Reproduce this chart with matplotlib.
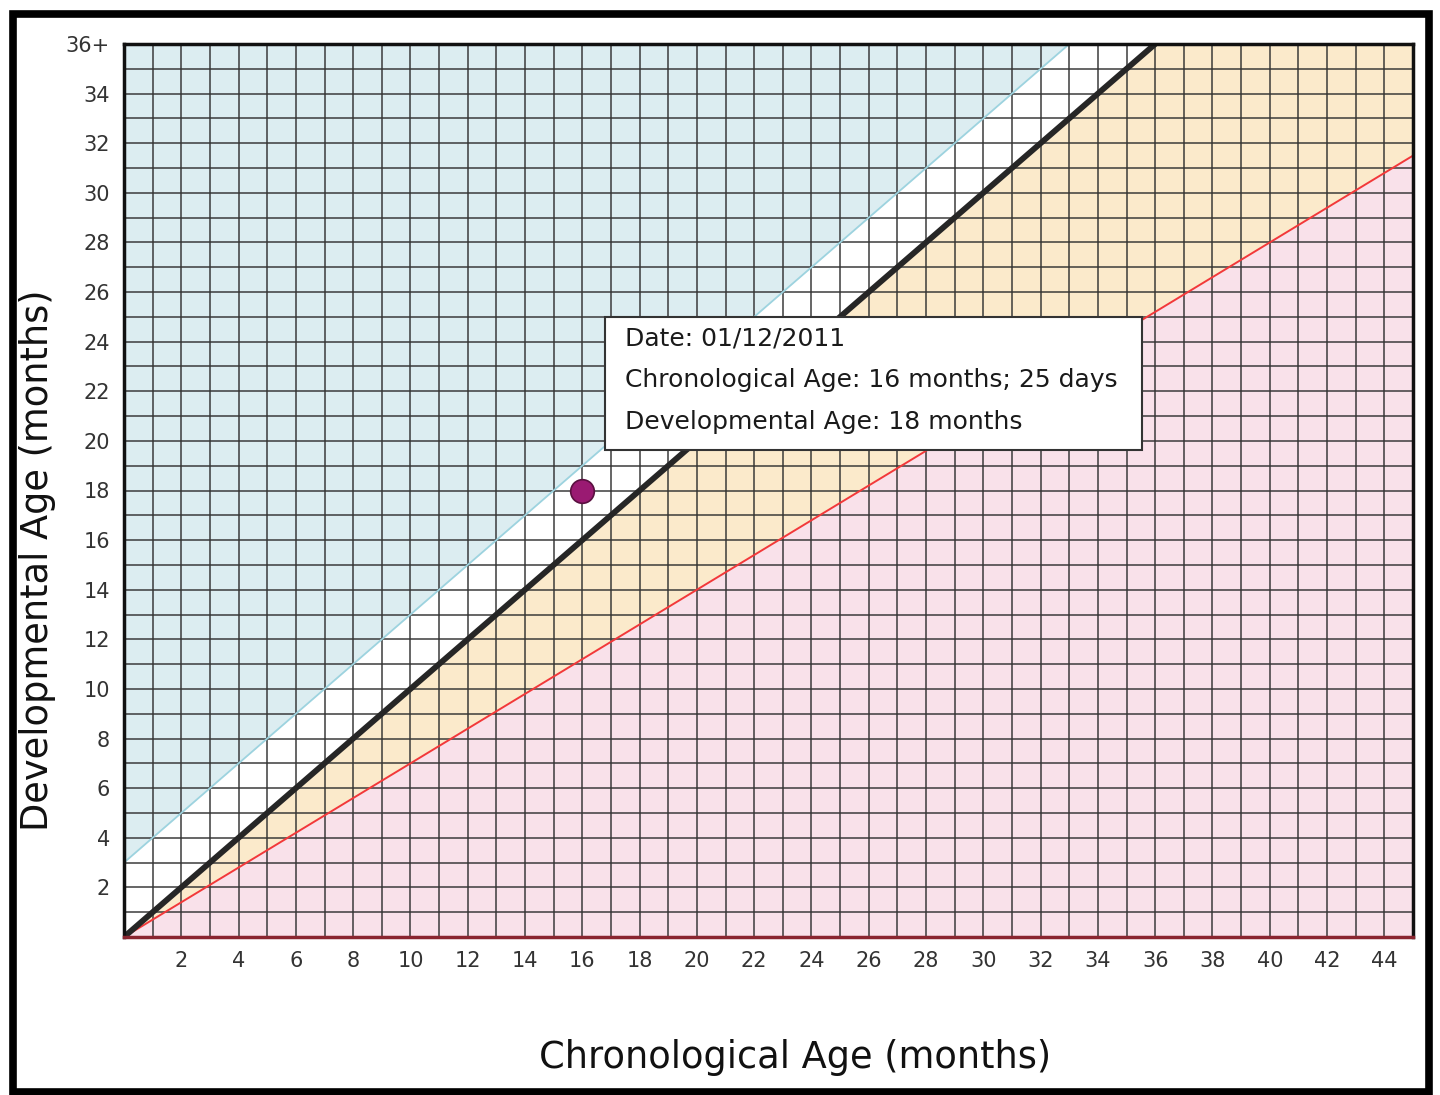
import matplotlib.pyplot as plt
import numpy as np
from matplotlib.patches import Rectangle

# axis extents (months)
x_max = 45
y_max = 36
x_ticks = list(range(2, 45, 2))
y_ticks = list(range(2, 37, 2))
y_tick_labels = [str(v) for v in y_ticks[:-1]] + ['36+']

# boundary lines of the bands
blue_x = [0, 33]
blue_y = [3, 36]
black_x = [0, 36]
black_y = [0, 36]
red_x = [0, 45]
red_y = [0, 31.5]

# the plotted assessment
point_x = [16]
point_y = [18]
info_lines = ['Date: 01/12/2011',
              'Chronological Age: 16 months; 25 days',
              'Developmental Age: 18 months']

W, H = 1440, 1095
fig = plt.figure(figsize=(W / 100, H / 100), dpi=100)
ax = fig.add_axes([124 / W, 1 - 937 / H, (1413 - 124) / W, (937 - 44) / H])

xs = np.linspace(0, x_max, 500)
black_line = np.minimum(np.interp(xs, black_x, black_y), y_max)
red_line = np.interp(xs, red_x, red_y)
upper_edge = np.minimum(xs + (blue_y[0] - blue_x[0]), y_max)

ax.fill_between(xs, upper_edge, y_max, color='#dcedf1', lw=0, zorder=0)
ax.fill_between(xs, black_line, upper_edge, color='white', lw=0, zorder=0)
ax.fill_between(xs, red_line, black_line, color='#fbeacb', lw=0, zorder=0)
ax.fill_between(xs, 0, red_line, color='#f9e1ea', lw=0, zorder=0)

# 1-month grid
for v in range(1, x_max):
    ax.axvline(v, color='#333333', lw=1.4, alpha=0.75, zorder=1)
for v in range(1, y_max):
    ax.axhline(v, color='#333333', lw=1.4, alpha=0.75, zorder=1)

ax.plot(blue_x, blue_y, color='#9dd3df', lw=1.3, zorder=2)
ax.plot(red_x, red_y, color='#f2383a', lw=1.4, zorder=2)
ax.plot(black_x, black_y, color='#262626', lw=4.2, zorder=3, solid_capstyle='butt')

ax.plot(point_x, point_y, 'o', ms=17, mfc='#9a1a72', mec='#5a1040', mew=1.2, zorder=5)

ax.set_xlim(0, x_max)
ax.set_ylim(0, y_max)
ax.set_xticks(x_ticks)
ax.set_yticks(y_ticks)
ax.set_yticklabels(y_tick_labels)
ax.tick_params(length=0, labelsize=15, labelcolor='#333333', pad=10)
for s in ax.spines.values():
    s.set_linewidth(2.5)
    s.set_color('#111111')
    s.set_zorder(6)
ax.spines['bottom'].set_color('#8a2530')

# info box
fig.patches.append(Rectangle((605 / W, 1 - 450 / H), (1142 - 605) / W, (450 - 317) / H,
                             transform=fig.transFigure, fc='white', ec='#333333',
                             lw=1.5, zorder=7))
for i, line in enumerate(info_lines):
    fig.text(625 / W, 1 - (338 + 42 * i) / H, line, fontsize=18, color='#1a1a1a',
             va='center', ha='left', zorder=8)

fig.text(795 / W, 1 - 1058 / H, 'Chronological Age (months)', fontsize=26.5,
         ha='center', va='center', color='#111111')
fig.text(38 / W, 1 - 560 / H, 'Developmental Age (months)', fontsize=26.5,
         ha='center', va='center', rotation=90, color='#111111')

# outer frame
fig.patches.append(Rectangle((13 / W, 3 / H), 1416 / W, 1078 / H,
                             transform=fig.transFigure, fill=False, ec='black', lw=5.5))

fig.savefig('out.png', dpi=100)
